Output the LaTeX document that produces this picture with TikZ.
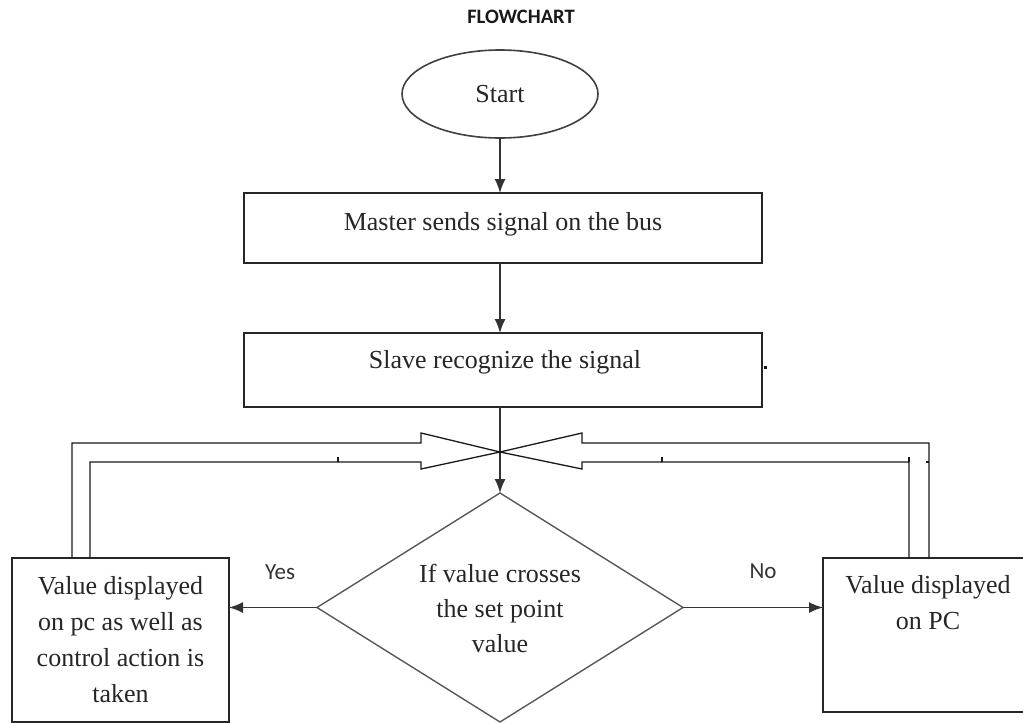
\documentclass[tikz,border=0pt]{standalone}
\usepackage{fontspec}
\setmainfont{Liberation Serif}
\newfontfamily\labelfont{Carlito}
\usetikzlibrary{shapes.geometric,arrows.meta,calc}

\begin{document}
\begin{tikzpicture}[x=1pt,y=-1pt,
  every node/.style={inner sep=0pt, outer sep=0pt},
  heading/.style={font=\labelfont\bfseries\fontsize{20.5}{24}\selectfont, text=black!90},
  branch/.style={font=\labelfont\fontsize{23}{27}\selectfont, text=black!80},
  bodytext/.style={font=\fontsize{26}{36}\selectfont, text=black!85, align=center},
  terminal/.style={ellipse, draw=black!75, line width=1.6pt, minimum width=196pt, minimum height=88pt},
  procbox/.style={rectangle, draw=black!85, line width=1.8pt},
  decisionbox/.style={diamond, draw=black!65, line width=1.4pt, minimum width=366pt, minimum height=229pt},
  flow/.style={draw=black!80, line width=1.5pt, -{Latex[length=14pt,width=11pt]}},
  feedback/.style={draw=black!90, line width=1.3pt, line join=miter},
  tickmark/.style={draw=black!90, line width=1.3pt}
]
% page area
\fill[white] (0,0) rectangle (1023,723);
\useasboundingbox (0,0) rectangle (1023,723);
\clip (0,0) rectangle (1023,723);

% title
\node[heading] (title) at (521,17) {FLOWCHART};

% main column
\node[terminal, bodytext] (start) at (500,94) {Start};
\node[procbox, minimum width=518pt, minimum height=70pt] (master) at (503,228) {};
\node[bodytext] (master-t) at (503,224) {Master sends signal on the bus};
\node[procbox, minimum width=518pt, minimum height=74pt] (slave) at (503,370) {};
\node[bodytext] (slave-t) at (505,362) {Slave recognize the signal};

% decision
\node[decisionbox] (decision) at (500,607.5) {};
\node[bodytext, font=\fontsize{26}{35}\selectfont] (decision-t) at (500,608)
  {If value crosses\\the set point\\value};

% outcome boxes
\node[procbox, minimum width=217pt, minimum height=164pt, bodytext] (yesbox) at (120.5,640)
  {Value displayed\\on pc as well as\\control action is\\taken};
\node[procbox, minimum width=217pt, minimum height=154pt] (nobox) at (931.5,635) {};
\node[bodytext] (nobox-t) at (928,603) {Value displayed\\on PC};

% connectors
\draw[flow] (start.south) -- (start.south |- master.north);
\draw[flow] (master.south -| start.south) -- (start.south |- slave.north);
\draw[flow] (slave.south -| decision.north) -- (decision.north);
\draw[flow] (decision.west) -- (decision.west -| yesbox.east);
\draw[flow] (decision.east) -- (decision.east -| nobox.west);

\node[branch] (yes) at (280,572) {Yes};
\node[branch] (no) at (763,571) {No};

% feedback block arrows meeting above the decision
\coordinate (meet) at (500,452);
\draw[feedback] ($(yesbox.north west)+(60,0)$) |- (421,443) -- (421,433) -- (meet)
  -- (421,469) -- (421,462) -| ($(yesbox.north west)+(78,0)$);
\draw[feedback] ($(nobox.north west)+(106,0)$) |- (582,443) -- (582,433) -- (meet)
  -- (582,469) -- (582,462) -| ($(nobox.north west)+(86,0)$);

% small marks on the return lines
\draw[tickmark] (338,462) -- (338,457);
\draw[tickmark] (662,462) -- (662,457);
\draw[tickmark] (909,462) -- (909,457);
\draw[tickmark] (926,462) -- (929,462);
\fill[black!90] (764,365.5) rectangle (767,368.5);
\end{tikzpicture}
\end{document}
